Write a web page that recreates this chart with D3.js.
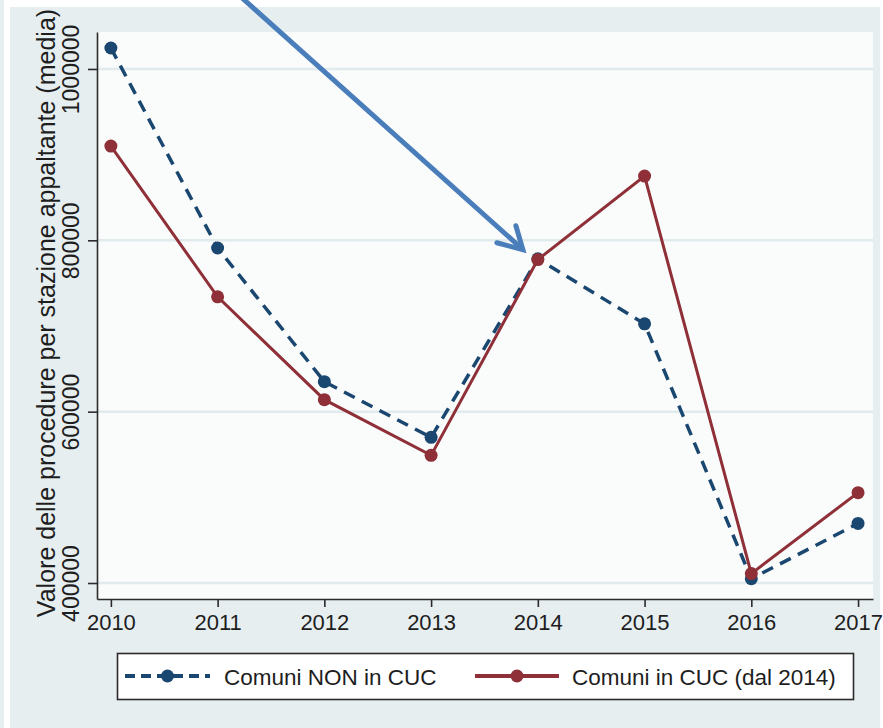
<!DOCTYPE html>
<html>
<head>
<meta charset="utf-8">
<script src="https://cdn.jsdelivr.net/npm/d3@7"></script>
<style>
  body { margin: 0; background: #fff; }
  svg { display: block; font-family: "Liberation Sans", Arial, sans-serif; }
</style>
</head>
<body>
<svg width="883" height="728"></svg>
<script>
// data
var years = [2010, 2011, 2012, 2013, 2014, 2015, 2016, 2017];
var nonCuc = [1024500, 791000, 635000, 570000, 778500, 702500, 405000, 469500];
var inCuc = [910000, 734000, 614000, 549000, 777500, 875000, 411000, 505500];
var yTicks = [400000, 600000, 800000, 1000000];
var seriesNames = ["Comuni NON in CUC", "Comuni in CUC (dal 2014)"];

var navy = "#1a476f", maroon = "#8f2f37";

var svg = d3.select("svg");

// outer panel
svg.append("rect").attr("x", 0).attr("y", 0).attr("width", 4).attr("height", 728).attr("fill", "#e6eef0");
svg.append("rect").attr("x", 10).attr("y", 7).attr("width", 870).attr("height", 721).attr("fill", "#e6eef0");

var pLeft = 97, pRight = 873, pTop = 32, pBottom = 599;

var x = d3.scaleLinear().domain([2009.87, 2017.14]).range([pLeft, pRight]);
var y = d3.scaleLinear().domain([381340, 1043150]).range([pBottom, pTop]);

// plot region
svg.append("rect")
    .attr("x", pLeft).attr("y", pTop)
    .attr("width", pRight - pLeft).attr("height", pBottom - pTop)
    .attr("fill", "#fafbfb");

// grid
svg.append("g").selectAll("line")
    .data(yTicks)
    .enter().append("line")
    .attr("x1", pLeft).attr("x2", pRight)
    .attr("y1", function (d) { return y(d); })
    .attr("y2", function (d) { return y(d); })
    .attr("stroke", "#e1ebee")
    .attr("stroke-width", 2.5);

// axes
var gx = svg.append("g")
    .attr("transform", "translate(0," + pBottom + ")")
    .call(d3.axisBottom(x).tickValues(years).tickFormat(d3.format("d")).tickSizeInner(8).tickSizeOuter(0).tickPadding(7));
gx.select(".domain").attr("stroke", "#2b2b2b").attr("stroke-width", 1.6);
gx.selectAll(".tick line").attr("stroke", "#2b2b2b").attr("stroke-width", 1.6);
gx.selectAll(".tick text")
    .attr("font-size", "22px")
    .attr("fill", "#1e1e1e")
    .attr("font-family", "Liberation Sans, Arial, sans-serif");

var gy = svg.append("g")
    .attr("transform", "translate(" + pLeft + ",0)")
    .call(d3.axisLeft(y).tickValues(yTicks).tickFormat(d3.format("d")).tickSizeInner(9).tickSizeOuter(0));
gy.select(".domain").attr("stroke", "#2b2b2b").attr("stroke-width", 1.6);
gy.selectAll(".tick line").attr("stroke", "#2b2b2b").attr("stroke-width", 1.6);
gy.selectAll(".tick text")
    .attr("x", 0).attr("y", 0).attr("dy", 0)
    .attr("transform", "translate(-18,0) rotate(-90)")
    .attr("text-anchor", "middle")
    .attr("font-size", "23px")
    .attr("fill", "#1e1e1e")
    .attr("font-family", "Liberation Sans, Arial, sans-serif");

svg.append("text")
    .attr("transform", "translate(55," + 313 + ") rotate(-90)")
    .attr("text-anchor", "middle")
    .attr("font-size", "25px")
    .attr("fill", "#1e1e1e")
    .text("Valore delle procedure per stazione appaltante (media)");

// lines
var line = d3.line()
    .x(function (d) { return x(d[0]); })
    .y(function (d) { return y(d[1]); });

var nonData = d3.zip(years, nonCuc);
var cucData = d3.zip(years, inCuc);

svg.append("path")
    .datum(nonData)
    .attr("d", line)
    .attr("fill", "none")
    .attr("stroke", navy)
    .attr("stroke-width", 3.5)
    .attr("stroke-dasharray", "12,8");

svg.selectAll(".dotnon")
    .data(nonData)
    .enter().append("circle")
    .attr("class", "dotnon")
    .attr("cx", function (d) { return x(d[0]); })
    .attr("cy", function (d) { return y(d[1]); })
    .attr("r", 6.5)
    .attr("fill", navy);

svg.append("path")
    .datum(cucData)
    .attr("d", line)
    .attr("fill", "none")
    .attr("stroke", maroon)
    .attr("stroke-width", 3);

svg.selectAll(".dotcuc")
    .data(cucData)
    .enter().append("circle")
    .attr("class", "dotcuc")
    .attr("cx", function (d) { return x(d[0]); })
    .attr("cy", function (d) { return y(d[1]); })
    .attr("r", 6.5)
    .attr("fill", maroon);

// annotation arrow pointing at 2014
var tip = [x(2013.86), y(789000)];
var arrow = svg.append("g")
    .attr("stroke", "#4a7ebb")
    .attr("stroke-width", 5)
    .attr("stroke-linecap", "round")
    .attr("fill", "none");
arrow.append("line")
    .attr("x1", tip[0] - 290).attr("y1", tip[1] - 260)
    .attr("x2", tip[0] - 2).attr("y2", tip[1] - 2);
arrow.append("polyline")
    .attr("points", [[tip[0] - 26, tip[1] - 7], tip, [tip[0] - 7, tip[1] - 24]].map(function (p) { return p.join(","); }).join(" "))
    .attr("stroke-linejoin", "miter");

// legend
var lg = svg.append("g");
lg.append("rect")
    .attr("x", 117.5).attr("y", 653.5)
    .attr("width", 736).attr("height", 46)
    .attr("fill", "#fff")
    .attr("stroke", "#2b2b2b")
    .attr("stroke-width", 1.6);

var legendItems = [
    { name: seriesNames[0], color: navy, dash: "10,6", x0: 125, x1: 210, tx: 224 },
    { name: seriesNames[1], color: maroon, dash: null, x0: 475, x1: 559, tx: 572 }
];
legendItems.forEach(function (it) {
    var ly = 676;
    lg.append("line")
        .attr("x1", it.x0).attr("x2", it.x1)
        .attr("y1", ly).attr("y2", ly)
        .attr("stroke", it.color)
        .attr("stroke-width", 4)
        .attr("stroke-dasharray", it.dash);
    lg.append("circle")
        .attr("cx", (it.x0 + it.x1) / 2).attr("cy", ly)
        .attr("r", 6.5).attr("fill", it.color);
    lg.append("text")
        .attr("x", it.tx).attr("y", 685)
        .attr("font-size", "22.5px")
        .attr("fill", "#1e1e1e")
        .text(it.name);
});
</script>
</body>
</html>
